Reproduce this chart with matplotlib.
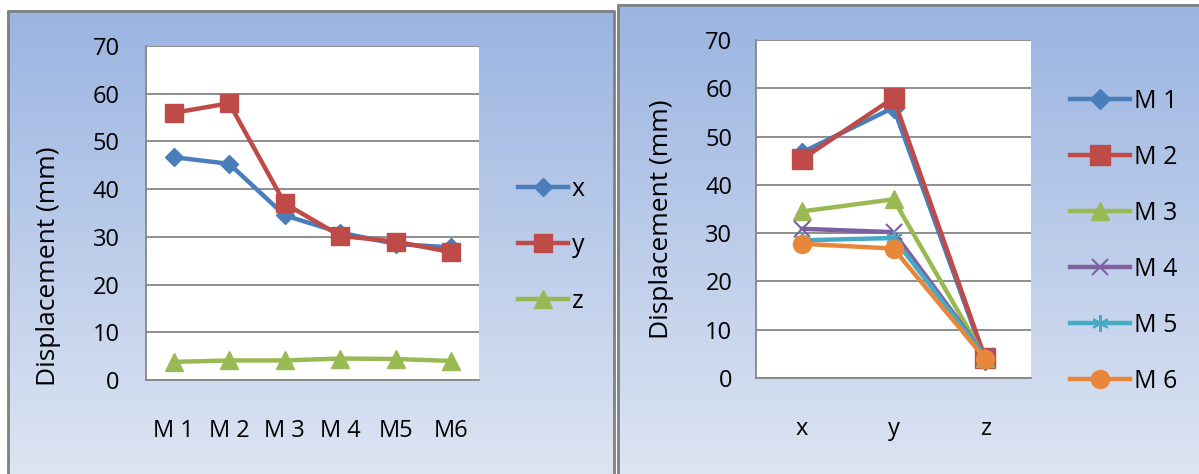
import numpy as np
import matplotlib.pyplot as plt
from matplotlib.colors import LinearSegmentedColormap

plt.rcParams['font.family'] = ['Open Sans', 'DejaVu Sans']

# displacement of each model in the x, y and z directions
models = ["M 1", "M 2", "M 3", "M 4", "M 5", "M 6"]
model_ticks = ["M 1", "M 2", "M 3", "M 4", "M5", "M6"]
directions = ["x", "y", "z"]
disp_x = [46.7, 45.3, 34.5, 30.9, 28.5, 27.8]
disp_y = [56.0, 58.0, 37.0, 30.2, 29.0, 26.8]
disp_z = [3.8, 4.1, 4.1, 4.5, 4.4, 4.0]
yticks = [0, 10, 20, 30, 40, 50, 60, 70]

colors = ['#4a7ebb', '#be4b48', '#98b954', '#7d60a0', '#46aac5', '#e8873a']
markers = ['D', 's', '^', 'x', (6, 2, 0), 'o']
msizes = [9, 13, 13, 12, 12, 12]

W, H = 1199, 474
fig = plt.figure(figsize=(W / 100, H / 100), dpi=100)


def px_axes(x0, y0, x1, y1):
    # axes placed by pixel box (top-left origin)
    return fig.add_axes([x0 / W, 1 - y1 / H, (x1 - x0) / W, (y1 - y0) / H])


# gradient panels behind both charts
bg = fig.add_axes([0, 0, 1, 1])
grad = np.linspace(0, 1, 256)[:, None]
cmap = LinearSegmentedColormap.from_list('panel', ['#9ab4e1', '#dfe6f3'])
bg.imshow(grad, extent=(7, 615, 490, 10), cmap=cmap, aspect='auto')
bg.imshow(grad, extent=(617, 1210, 490, 4), cmap=cmap, aspect='auto')
bg.plot([8, 8, 614, 614], [490, 11, 11, 490], color='#808080', lw=2)
bg.plot([618, 618, 1210], [490, 5, 5], color='#808080', lw=2)
bg.set_xlim(0, W)
bg.set_ylim(H, 0)
bg.axis('off')


def style(ax, ncat, ypad):
    ax.set_facecolor('white')
    ax.set_ylim(0, 70)
    ax.set_yticks(yticks)
    ax.set_xlim(-0.5, ncat - 0.5)
    ax.yaxis.grid(True, color='#868686', lw=1.3)
    ax.set_axisbelow(True)
    for s in ['top', 'right']:
        ax.spines[s].set_visible(False)
    for s in ['left', 'bottom']:
        ax.spines[s].set_color('#868686')
        ax.spines[s].set_linewidth(1.3)
    ax.tick_params(axis='y', length=0, labelsize=17, pad=ypad)
    ax.tick_params(axis='x', length=0, labelsize=17, pad=28)


# left chart: one line per direction across the models
ax1 = px_axes(146, 46, 479, 380)
style(ax1, len(models), 19)
pos = np.arange(len(models))
for vals, name, c, m, ms in zip([disp_x, disp_y, disp_z], directions,
                                colors[:3], markers[:3], msizes[:3]):
    ax1.plot(pos, vals, color=c, lw=3.2, marker=m, ms=ms, label=name)
ax1.set_xticks(pos)
ax1.set_xticklabels(model_ticks)
ax1.set_ylabel('Displacement (mm)', fontsize=19)
ax1.yaxis.set_label_coords(-0.255, 0.34)
ax1.legend(loc='center left', bbox_to_anchor=(518 / W, 1 - 245 / H),
           bbox_transform=fig.transFigure, frameon=False, fontsize=18,
           handlelength=2.0, handletextpad=0.15, labelspacing=1.24,
           borderpad=0, borderaxespad=0)

# right chart: one line per model across the directions
ax2 = px_axes(756, 40, 1031, 378)
style(ax2, len(directions), 17)
pos2 = np.arange(len(directions))
right_ms = [10, 14.5, 13, 12, 12, 13]
for i, name in enumerate(models):
    vals = [disp_x[i], disp_y[i], disp_z[i]]
    ax2.plot(pos2, vals, color=colors[i], lw=3.2, marker=markers[i],
             ms=right_ms[i], mew=1.5 if i in (3, 4) else 1, label=name)
ax2.set_xticks(pos2)
ax2.set_xticklabels(directions)
ax2.set_ylabel('Displacement (mm)', fontsize=19)
ax2.yaxis.set_label_coords(-0.30, 0.47)
ax2.legend(loc='center left', bbox_to_anchor=(1070 / W, 1 - 241 / H),
           bbox_transform=fig.transFigure, frameon=False, fontsize=18,
           handlelength=2.4, handletextpad=0.15, labelspacing=1.24,
           borderpad=0, borderaxespad=0)

fig.savefig('out.png', dpi=100)
